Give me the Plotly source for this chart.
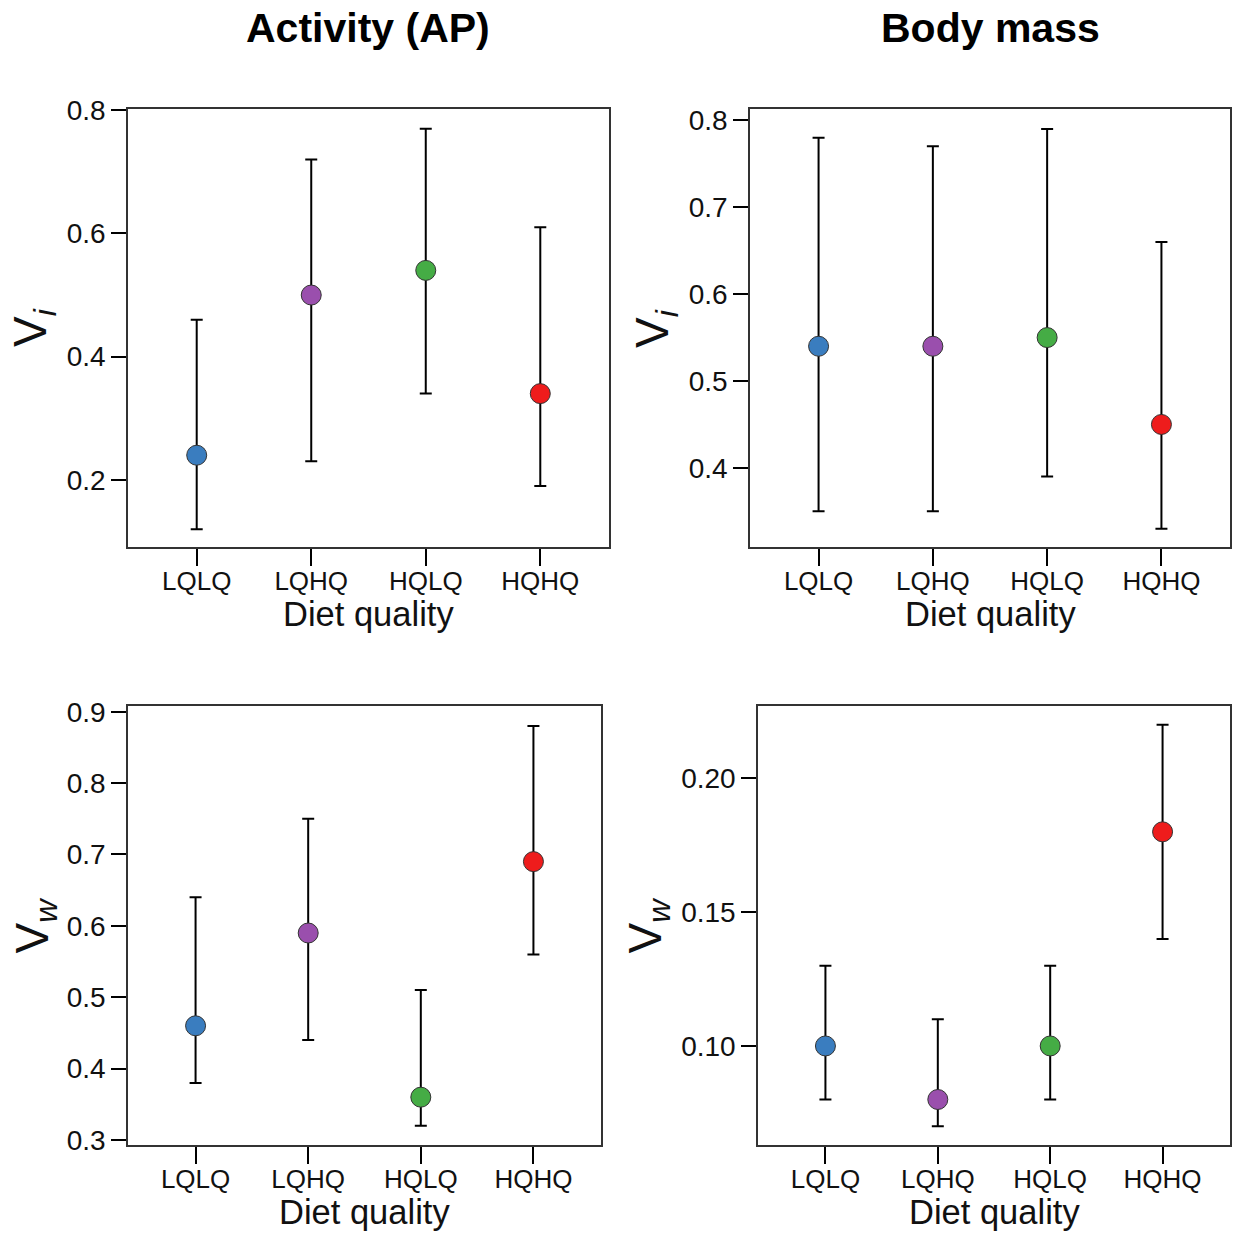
import plotly.graph_objects as go

categories = ["LQLQ", "LQHQ", "HQLQ", "HQHQ"]
colors = ["#3A7DBF", "#9A4FAD", "#45AC45", "#EE1C1C"]

# Activity (AP) - Vi
act_vi = [0.24, 0.50, 0.54, 0.34]
act_vi_lo = [0.12, 0.23, 0.34, 0.19]
act_vi_hi = [0.46, 0.72, 0.77, 0.61]
# Body mass - Vi
bm_vi = [0.54, 0.54, 0.55, 0.45]
bm_vi_lo = [0.35, 0.35, 0.39, 0.33]
bm_vi_hi = [0.78, 0.77, 0.79, 0.66]
# Activity (AP) - Vw
act_vw = [0.46, 0.59, 0.36, 0.69]
act_vw_lo = [0.38, 0.44, 0.32, 0.56]
act_vw_hi = [0.64, 0.75, 0.51, 0.88]
# Body mass - Vw
bm_vw = [0.10, 0.08, 0.10, 0.18]
bm_vw_lo = [0.08, 0.07, 0.08, 0.14]
bm_vw_hi = [0.13, 0.11, 0.13, 0.22]

W, H = 1236, 1234
FONT = "Liberation Sans, Arial, sans-serif"

panels = [
    dict(v=act_vi, lo=act_vi_lo, hi=act_vi_hi, x0=128, x1=609, y0=109, y1=547,
         yr=[0.091, 0.802], ticks=[0.2, 0.4, 0.6, 0.8], fmt=".1f", ylab="V<sub><i>i</i></sub>", ylx=33),
    dict(v=bm_vi, lo=bm_vi_lo, hi=bm_vi_hi, x0=750, x1=1230, y0=109, y1=547,
         yr=[0.309, 0.813], ticks=[0.4, 0.5, 0.6, 0.7, 0.8], fmt=".1f", ylab="V<sub><i>i</i></sub>", ylx=655),
    dict(v=act_vw, lo=act_vw_lo, hi=act_vw_hi, x0=128, x1=601, y0=706, y1=1145,
         yr=[0.293, 0.908], ticks=[0.3, 0.4, 0.5, 0.6, 0.7, 0.8, 0.9], fmt=".1f", ylab="V<sub><i>w</i></sub>", ylx=35),
    dict(v=bm_vw, lo=bm_vw_lo, hi=bm_vw_hi, x0=758, x1=1230, y0=706, y1=1145,
         yr=[0.063, 0.227], ticks=[0.10, 0.15, 0.20], fmt=".2f", ylab="V<sub><i>w</i></sub>", ylx=648),
]

fig = go.Figure()
annotations = []
idx_x = list(range(len(categories)))

for i, p in enumerate(panels, start=1):
    xa = "x" if i == 1 else f"x{i}"
    ya = "y" if i == 1 else f"y{i}"
    fig.add_trace(go.Scatter(
        x=idx_x, y=p["v"], mode="markers", xaxis=xa, yaxis=ya, showlegend=False,
        marker=dict(size=20, color=colors, line=dict(color="#333333", width=1)),
        error_y=dict(type="data", symmetric=False,
                     array=[h - v for h, v in zip(p["hi"], p["v"])],
                     arrayminus=[v - l for v, l in zip(p["v"], p["lo"])],
                     color="black", thickness=2, width=6),
    ))
    xkey = "xaxis" if i == 1 else f"xaxis{i}"
    ykey = "yaxis" if i == 1 else f"yaxis{i}"
    fig.update_layout(**{
        xkey: dict(domain=[p["x0"] / W, p["x1"] / W], anchor=ya, range=[-0.6, 3.6],
                   tickmode="array", tickvals=idx_x, ticktext=categories,
                   ticks="outside", ticklen=17, tickwidth=2, tickcolor="black",
                   ticklabelstandoff=-7,
                   showline=True, linecolor="#333333", linewidth=1.5, mirror=True,
                   showgrid=False, zeroline=False, automargin=False,
                   tickfont=dict(size=26, color="#111111", family=FONT)),
        ykey: dict(domain=[1 - p["y1"] / H, 1 - p["y0"] / H], anchor=xa, range=p["yr"],
                   tickmode="array", tickvals=p["ticks"],
                   ticktext=[format(t, p["fmt"]) for t in p["ticks"]],
                   ticks="outside", ticklen=15, tickwidth=2, tickcolor="black",
                   showline=True, linecolor="#333333", linewidth=1.5, mirror=True,
                   showgrid=False, zeroline=False, automargin=False,
                   tickfont=dict(size=28, color="#111111", family=FONT)),
    })
    # x-axis title
    annotations.append(dict(text="Diet quality", xref="paper", yref="paper",
                            x=((p["x0"] + p["x1"]) / 2) / W, y=1 - (p["y1"] + 67) / H,
                            showarrow=False, xanchor="center", yanchor="middle",
                            font=dict(size=34.5, color="#111111", family=FONT)))
    # y-axis title
    annotations.append(dict(text=p["ylab"], xref="paper", yref="paper",
                            x=p["ylx"] / W, y=1 - ((p["y0"] + p["y1"]) / 2 - 0) / H,
                            showarrow=False, xanchor="center", yanchor="middle", textangle=-90,
                            font=dict(size=46, color="#111111", family=FONT)))

annotations.append(dict(text="<b>Activity (AP)</b>", xref="paper", yref="paper",
                        x=368 / W, y=1 - 28 / H, showarrow=False, xanchor="center", yanchor="middle",
                        font=dict(size=41, color="black", family=FONT)))
annotations.append(dict(text="<b>Body mass</b>", xref="paper", yref="paper",
                        x=990 / W, y=1 - 28 / H, showarrow=False, xanchor="center", yanchor="middle",
                        font=dict(size=41, color="black", family=FONT)))

fig.update_layout(width=W, height=H, margin=dict(l=0, r=0, t=0, b=0, pad=0, autoexpand=False),
                  plot_bgcolor="white", paper_bgcolor="white",
                  annotations=annotations, font=dict(family=FONT))

fig.write_html("out.html")
